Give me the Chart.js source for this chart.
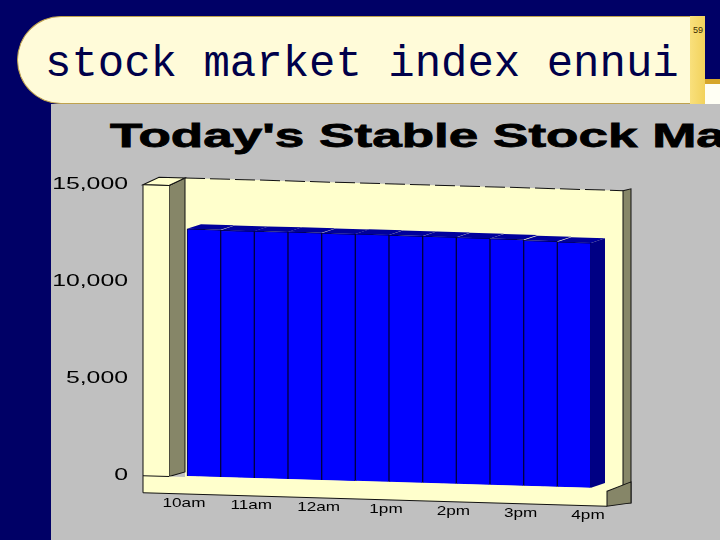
<!DOCTYPE html>
<html>
<head>
<meta charset="utf-8">
<script src="https://cdn.jsdelivr.net/npm/chart.js@4.4.1/dist/chart.umd.min.js"></script>
<style>
html,body{margin:0;padding:0;width:720px;height:540px;overflow:hidden;background:#000066;}
#titlebox{position:absolute;left:17px;top:16px;width:673px;height:88px;background:#FFFBD9;border:1.5px solid #BFA24E;border-right:none;border-radius:44px 0 0 44px;box-sizing:border-box;}
#strip{position:absolute;left:690px;top:16px;width:15px;height:88px;background:linear-gradient(90deg,#F9E07C,#F2D25C);}
#slidetitle{position:absolute;left:45px;top:42px;font:44px/44px "Liberation Mono","Courier New",monospace;color:#00004A;white-space:nowrap;}
#pagenum{position:absolute;left:693px;top:25px;font:9px/10px "Liberation Sans",Arial,sans-serif;color:#3a2a00;}
#goldline{position:absolute;left:705px;top:79px;width:15px;height:5px;background:#D6A62A;}
#whitebit{position:absolute;left:705px;top:84px;width:15px;height:20px;background:#FFFFF4;}
#panel{position:absolute;left:51px;top:104px;width:669px;height:436px;background:#C0C0C0;overflow:hidden;}
#charttitle{position:absolute;left:59px;top:14px;font:bold 34px/34px "Liberation Sans",Arial,sans-serif;color:#000;white-space:nowrap;transform:scaleX(1.56);transform-origin:0 0;-webkit-text-stroke:0.8px #000;}
#c{position:absolute;left:0;top:0;}
</style>
</head>
<body>
<div id="titlebox"></div>
<div id="strip"></div>
<div id="slidetitle">stock market index ennui</div>
<div id="pagenum">59</div>
<div id="goldline"></div>
<div id="whitebit"></div>
<div id="panel"><div id="charttitle">Today's Stable Stock Market</div></div>
<canvas id="c" width="720" height="540"></canvas>
<script>
// ---- data ----
const periods = ['10:00','10:30','11:00','11:30','12:00','12:30','13:00','13:30','14:00','14:30','15:00','15:30'];
const indexValues = [12740, 12720, 12730, 12735, 12720, 12730, 12720, 12715, 12700, 12690, 12650, 12620];
const timeLabels = ['10am','11am','12am','1pm','2pm','3pm','4pm'];
const yTickValues = [0, 5000, 10000, 15000];

// ---- styling ----
const SHEAR = 0.029;
const CREAM = '#FFFFCC', OLIVE = '#868668', EDGE = '#111111';
const BAR_FRONT = '#0000FF', BAR_TOP = '#00009C', BAR_SIDE = '#000084';

function poly(ctx, pts, fill, stroke){
  ctx.beginPath();
  pts.forEach((p,i)=> i ? ctx.lineTo(p[0],p[1]) : ctx.moveTo(p[0],p[1]));
  ctx.closePath();
  if (fill){ ctx.fillStyle = fill; ctx.fill(); }
  if (stroke){ ctx.strokeStyle = stroke; ctx.lineWidth = 1; ctx.stroke(); }
}
function line(ctx, x1,y1,x2,y2){
  ctx.beginPath(); ctx.moveTo(x1,y1); ctx.lineTo(x2,y2);
  ctx.strokeStyle = EDGE; ctx.lineWidth = 1; ctx.stroke();
}

const threeD = {
  id: 'threeD',
  beforeDatasetsDraw(chart){
    const ctx = chart.ctx;
    const {left:L, right:R, top:T, bottom:B} = chart.chartArea;
    ctx.save();
    ctx.transform(1, SHEAR, 0, 1, 0, -SHEAR*L);
    // back wall
    poly(ctx, [[L-2,T-7],[R+32,T-7],[R+32,B+3],[L-2,B+3]], CREAM);
    ctx.save();
    ctx.setLineDash([20,5]);
    line(ctx, L-2, T-7, R+32, T-7);
    ctx.restore();
    // right strip
    poly(ctx, [[R+32,T-7],[R+40,T-9],[R+40,B+14],[R+32,B+14]], OLIVE, EDGE);
    // left wall inner face
    poly(ctx, [[L-18,T+1],[L-2,T-7],[L-2,B-4],[L-18,B+1]], OLIVE, EDGE);
    // left wall cap
    poly(ctx, [[L-44,T+1],[L-28,T-7],[L-2,T-7],[L-18,T+1]], CREAM, EDGE);
    // left wall front
    poly(ctx, [[L-44,T+1],[L-18,T+1],[L-18,B+18],[L-44,B+18]], CREAM);
    // floor front face
    poly(ctx, [[L-44,B+1],[R+16,B+1],[R+16,B+18],[L-44,B+18]], CREAM);
    line(ctx, L-44, T+1, L-44, B+18);
    line(ctx, L-44, T+1, L-18, T+1);
    line(ctx, L-44, B+1, L-18, B+1);
    line(ctx, L-44, B+18, R+16, B+18);
    // floor right face
    poly(ctx, [[R+16,B+3],[R+40,B-7],[R+40,B+14],[R+16,B+18]], OLIVE, EDGE);
  },
  afterDatasetsDraw(chart){
    const ctx = chart.ctx;
    const {left:L, bottom:B} = chart.chartArea;
    const meta = chart.getDatasetMeta(0);
    const DX = 14, DY = -5;
    meta.data.forEach((bar,i)=>{
      const {x,y,base,width} = bar.getProps(['x','y','base','width'], true);
      const xl = x - width/2, xr = x + width/2;
      poly(ctx, [[xl,y],[xl+DX,y+DY],[xr+DX,y+DY],[xr,y]], BAR_TOP);
      if (i === meta.data.length - 1){
        poly(ctx, [[xr,y],[xr+DX,y+DY],[xr+DX,base+DY],[xr,base]], BAR_SIDE);
      }
    });
    ctx.restore();

    // axis labels (stretched like the original artwork)
    const xs = chart.scales.x, ys = chart.scales.y;
    ctx.save();
    ctx.fillStyle = '#000';
    ctx.font = '13px "Liberation Sans", Arial, sans-serif';
    ctx.textAlign = 'center'; ctx.textBaseline = 'middle';
    timeLabels.forEach((lab,j)=>{
      const px = xs.getPixelForValue(j*2) - 3;
      const py = B + 28 + SHEAR*(px - L);
      ctx.save(); ctx.translate(px, py); ctx.scale(1.32, 1); ctx.fillText(lab, 0, 0); ctx.restore();
    });
    ctx.font = '16px "Liberation Sans", Arial, sans-serif';
    ctx.textAlign = 'right';
    yTickValues.forEach(v=>{
      const py = ys.getPixelForValue(v);
      ctx.save(); ctx.translate(L - 59, py); ctx.scale(1.55, 1); ctx.fillText(v.toLocaleString('en-US'), 0, 0); ctx.restore();
    });
    ctx.restore();
  }
};

new Chart(document.getElementById('c'), {
  type: 'bar',
  data: {
    datasets: [{
      label: 'Index',
      data: indexValues.map((v,i)=>({x: i + 0.5, y: v, period: periods[i]})),
      backgroundColor: BAR_FRONT,
      borderColor: '#000044',
      borderWidth: 1,
      barPercentage: 1,
      categoryPercentage: 1,
      clip: false
    }]
  },
  options: {
    responsive: false,
    animation: false,
    events: [],
    layout: { padding: { top: 185, right: 129, bottom: 0, left: 0 } },
    plugins: { legend: { display: false }, tooltip: { enabled: false }, title: { display: false } },
    scales: {
      x: { type: 'linear', min: 0, max: 12, offset: false,
           ticks: { display: false, stepSize: 2 },
           grid: { display: false, drawTicks: false }, border: { display: false },
           afterFit(s){ s.height = 64; } },
      y: { type: 'linear', min: 0, max: 15000,
           ticks: { display: false, stepSize: 5000 },
           grid: { display: false, drawTicks: false }, border: { display: false },
           afterFit(s){ s.width = 187; } }
    }
  },
  plugins: [threeD]
});
</script>
</body>
</html>
